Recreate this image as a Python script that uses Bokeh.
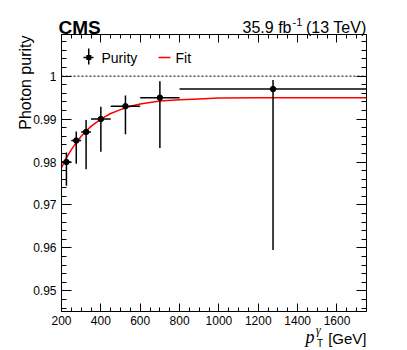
import numpy as np
from bokeh.plotting import figure
from bokeh.models import (ColumnDataSource, FixedTicker, LinearAxis, Label,
                          BoxAnnotation, PrintfTickFormatter, Range1d)
from bokeh.embed import file_html
from bokeh.resources import INLINE

# ---------------- data ----------------
bin_lo = [200, 250, 300, 350, 450, 600, 800]
bin_hi = [250, 300, 350, 450, 600, 800, 1750]
bin_center = [225, 275, 325, 400, 525, 700, 1275]
purity = [0.9800, 0.9850, 0.9870, 0.9900, 0.9930, 0.9950, 0.9970]
err_up = [0.0022, 0.0021, 0.0028, 0.0029, 0.0025, 0.0038, 0.0021]
err_down = [0.0055, 0.0054, 0.0087, 0.0076, 0.0065, 0.0117, 0.0375]

fit_x = [200, 225, 250, 275, 300, 325, 350, 400, 450, 500, 550, 600, 700, 800, 900, 1000, 1200, 1750]
fit_y = [0.9787, 0.9810, 0.9829, 0.9845, 0.9860, 0.9872, 0.9883, 0.9900, 0.9913, 0.9922,
         0.9930, 0.9935, 0.9942, 0.9945, 0.9947, 0.9949, 0.9950, 0.9950]

reference_line = 1.0
x_ticks = [200, 400, 600, 800, 1000, 1200, 1400, 1600]
y_ticks = [0.95, 0.96, 0.97, 0.98, 0.99, 1.0]
x_lim = (200, 1750)
y_lim = (0.9452, 1.0097)

# ---------------- layout (pixels) ----------------
W, H = 400, 350
FL, FR, FT, FB = 61, 366, 34, 311          # plot box inside the canvas
FONT = "Liberation Sans"

kx = (FR - FL) / (x_lim[1] - x_lim[0])
ky = (FB - FT) / (y_lim[1] - y_lim[0])
xr = Range1d(x_lim[0] - FL / kx, x_lim[1] + (W - FR) / kx)
yr = Range1d(y_lim[0] - (H - FB) / ky, y_lim[1] + FT / ky)

src = ColumnDataSource(dict(
    x=bin_center, lo=bin_lo, hi=bin_hi, y=purity,
    ylo=[v - d for v, d in zip(purity, err_down)],
    yhi=[v + u for v, u in zip(purity, err_up)],
))
fit_src = ColumnDataSource(dict(x=fit_x, y=fit_y))
ref_src = ColumnDataSource(dict(x=list(x_lim), y=[reference_line, reference_line]))

p = figure(width=W, height=H, output_backend="svg", toolbar_location=None,
           x_range=xr, y_range=yr, min_border=0,
           x_axis_location=None, y_axis_location=None)
p.grid.visible = False
p.outline_line_color = None
p.background_fill_color = "white"
p.border_fill_color = "white"

x_minor = list(np.arange(x_lim[0], x_lim[1] + 1, 50))
y_minor = list(np.round(np.arange(0.946, y_lim[1], 0.002), 4))
xt = FixedTicker(ticks=x_ticks, minor_ticks=x_minor)
yt = FixedTicker(ticks=y_ticks, minor_ticks=y_minor)


def style(ax, labels, major, minor):
    ax.axis_line_color = "black"
    ax.axis_line_width = 1
    ax.major_tick_in = major
    ax.major_tick_out = 0
    ax.minor_tick_in = minor
    ax.minor_tick_out = 0
    ax.major_tick_line_color = "black"
    ax.minor_tick_line_color = "black"
    ax.major_label_text_font = FONT
    ax.major_label_text_font_size = "12px"
    ax.major_label_text_color = "black" if labels else None


bottom = LinearAxis(ticker=xt, fixed_location=y_lim[0], bounds=x_lim)
style(bottom, True, 8, 4)
bottom.major_label_standoff = 4
top = LinearAxis(ticker=xt, fixed_location=y_lim[1], bounds=x_lim)
style(top, False, 8, 4)
left = LinearAxis(ticker=yt, fixed_location=x_lim[0], bounds=y_lim,
                  formatter=PrintfTickFormatter(format="%g"))
style(left, True, 10, 5)
left.major_label_standoff = 5
right = LinearAxis(ticker=yt, fixed_location=x_lim[1], bounds=y_lim)
style(right, False, 10, 5)
p.add_layout(bottom, "below")
p.add_layout(top, "above")
p.add_layout(left, "left")
p.add_layout(right, "right")

# reference dashed line at 1
p.line("x", "y", source=ref_src, line_color="black", line_dash="2 2", line_width=1)

# fit
p.line("x", "y", source=fit_src, line_color="red", line_width=1.5)

# error bars and points
p.segment(x0="lo", y0="y", x1="hi", y1="y", source=src, line_color="black", line_width=1.5)
p.segment(x0="x", y0="ylo", x1="x", y1="yhi", source=src, line_color="black", line_width=1.5)
p.scatter("x", "y", source=src, size=5.5, fill_color="black", line_color="black")


# ---- helpers: positions in canvas pixels from the top-left ----
def box(x0, x1, y0, y1, color):
    p.add_layout(BoxAnnotation(left=x0, right=x1, bottom=H - y1, top=H - y0,
                               left_units="screen", right_units="screen",
                               bottom_units="screen", top_units="screen",
                               fill_color=color, fill_alpha=1.0, line_alpha=0.0,
                               level="overlay"))


def text(x, y, s, size, align="left", baseline="alphabetic", font=FONT, style="normal", angle=0.0):
    p.add_layout(Label(x=x, y=H - y, x_units="screen", y_units="screen", text=s,
                       text_font=font, text_font_style=style, text_font_size=size,
                       text_align=align, text_baseline=baseline, text_color="black",
                       angle=angle))


# legend
box(83, 93, 56.25, 57.75, "black")
box(87.5, 89.0, 48, 64, "black")
box(85.8, 90.8, 54.5, 59.5, "black")
text(101, 57, "Purity", "14px", baseline="middle")
box(158, 170, 56.25, 57.75, "red")
text(175, 57, "Fit", "14px", baseline="middle")

# header
text(58, 27, "CMS", "19px", style="bold")
text(291, 27, "35.9 fb", "16px", align="right")
text(292, 21, "-1", "11px")
text(366, 27, "(13 TeV)", "16px", align="right")

# axis titles
text(25, 35, "Photon purity", "16px", align="right", baseline="middle", angle=np.pi / 2)
text(366, 338, "[GeV]", "15px", align="right")
text(305, 336, "p", "18px", font="Liberation Serif", style="italic")
text(315.5, 329, "γ", "12px", font="Liberation Serif", style="italic")
text(316.5, 343, "T", "10px")

open("out.html", "w").write(file_html(p, INLINE))
